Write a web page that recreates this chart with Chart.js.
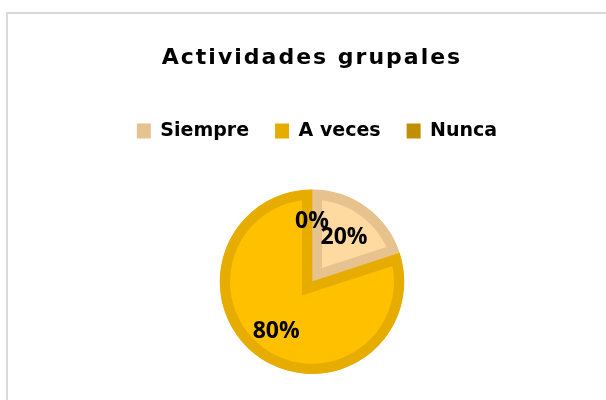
<!DOCTYPE html>
<html><head><meta charset="utf-8">
<script src="https://cdn.jsdelivr.net/npm/chart.js@4/dist/chart.umd.min.js"></script>
<style>
html,body{margin:0;padding:0;background:#fff;width:606px;height:400px;overflow:hidden}
#frame{position:absolute;left:6px;top:12px;width:700px;height:500px;border-left:2px solid #d9d9d9;border-top:2px solid #d9d9d9;box-sizing:border-box}
#wrap{position:absolute;left:0;top:0;width:606px;height:400px}
</style></head><body>
<div id="frame"></div>
<div id="wrap"><canvas id="c" width="606" height="400"></canvas></div>
<script>
const categories = ['Siempre', 'A veces', 'Nunca'];
const values = [20, 80, 0];
const fillColors = ['#FFDAA0', '#FFC000', '#C89600'];
const edgeColors = ['#E6C28E', '#E6AD00', '#BF8F00'];
const chartTitle = 'Actividades grupales';

const TEXT_FONT = "'DejaVu Sans', sans-serif";
const LABEL_FONT = "'Open Sans', sans-serif";

const spacingPlugin = {
  id: 'spacing',
  beforeLayout(chart) { chart.ctx.letterSpacing = '0px'; },
  afterLayout(chart, args, opts) {
    chart.chartArea.top += opts.extraTop;
    chart.chartArea.height = chart.chartArea.bottom - chart.chartArea.top;
    if (chart.legend) {
      chart.legend.left += opts.legendShift;
      chart.legend.right += opts.legendShift;
    }
  },
  beforeDraw(chart, args, opts) {
    const ctx = chart.ctx;
    ctx.letterSpacing = '0px';
    const tb = chart.titleBlock;
    if (tb && !tb._wrapped) {
      const orig = tb.draw.bind(tb);
      tb.draw = function () { ctx.letterSpacing = opts.titleSpacing; orig(); ctx.letterSpacing = '0px'; };
      tb._wrapped = true;
    }
  }
};

const pctLabels = {
  id: 'pctLabels',
  afterDatasetsDraw(chart, args, opts) {
    const ctx = chart.ctx;
    const meta = chart.getDatasetMeta(0);
    const data = chart.data.datasets[0].data;
    const total = data.reduce((a, b) => a + b, 0);
    ctx.save();
    ctx.font = 'bold 23px ' + LABEL_FONT;
    ctx.fillStyle = '#000';
    ctx.textAlign = 'center';
    ctx.textBaseline = 'middle';
    ctx.letterSpacing = '0px';
    meta.data.forEach((arc, i) => {
      const p = arc.getProps(['x', 'y', 'startAngle', 'endAngle', 'outerRadius'], true);
      const mid = (p.startAngle + p.endAngle) / 2;
      const r = p.outerRadius * opts.radial[i];
      ctx.fillText(Math.round(data[i] / total * 100) + '%', p.x + Math.cos(mid) * r, p.y + Math.sin(mid) * r);
    });
    ctx.restore();
  }
};

new Chart(document.getElementById('c'), {
  type: 'pie',
  data: {
    labels: categories,
    datasets: [{
      data: values,
      backgroundColor: fillColors,
      borderColor: edgeColors,
      borderWidth: 10,
      borderAlign: 'inner',
      borderJoinStyle: 'miter'
    }]
  },
  plugins: [spacingPlugin, pctLabels],
  options: {
    responsive: false,
    animation: false,
    devicePixelRatio: 1,
    layout: { padding: { top: 14, bottom: 26, left: 18, right: 0 } },
    plugins: {
      tooltip: { enabled: false },
      spacing: { extraTop: 39, titleSpacing: '2px', legendShift: 5 },
      title: {
        display: true,
        text: chartTitle,
        color: '#000',
        font: { family: TEXT_FONT, size: 22, weight: 'bold', lineHeight: 1.2 },
        padding: { top: 31, bottom: 24 }
      },
      legend: {
        display: true,
        position: 'top',
        labels: {
          color: '#000',
          font: { family: TEXT_FONT, size: 19, weight: 'bold' },
          boxWidth: 14,
          boxHeight: 15,
          padding: 26,
          generateLabels(chart) {
            return chart.data.labels.map((t, i) => ({
              text: t,
              fillStyle: edgeColors[i],
              strokeStyle: edgeColors[i],
              lineWidth: 0,
              fontColor: '#000',
              index: i,
              hidden: false
            }));
          }
        }
      },
      pctLabels: { radial: [0.59, 0.66, 0.65] }
    }
  }
});
</script>
</body></html>
